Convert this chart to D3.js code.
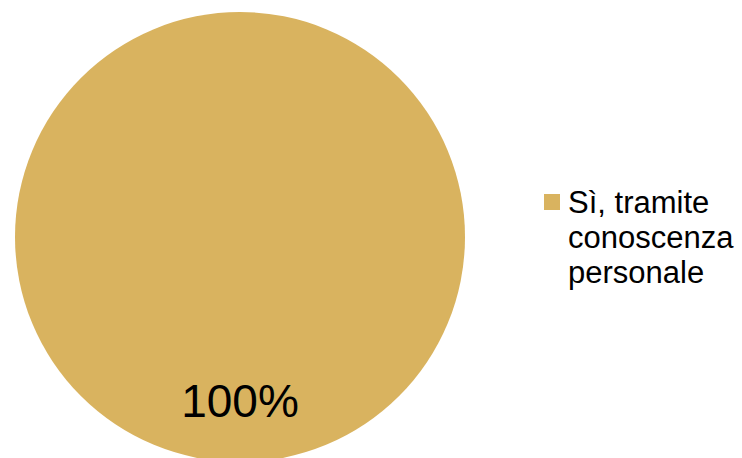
<!DOCTYPE html>
<html>
<head>
<meta charset="utf-8">
<script src="https://cdn.jsdelivr.net/npm/d3@7"></script>
<style>
  html, body { margin: 0; padding: 0; background: #fff; }
  svg { display: block; font-family: "Liberation Sans", Arial, sans-serif; }
</style>
</head>
<body>
<svg id="chart" width="742" height="458"></svg>
<script>
const categories = ["Sì, tramite conoscenza personale"];
const legendLines = ["Sì, tramite", "conoscenza", "personale"];
const values = [100];
const labels = ["100%"];
const colors = ["#D9B35F"];

const svg = d3.select("#chart");
const cx = 240, cy = 237, r = 225;

const pie = d3.pie().sort(null).value(d => d);
const arc = d3.arc().innerRadius(0).outerRadius(r);
const color = d3.scaleOrdinal().domain(categories).range(colors);

const g = svg.append("g").attr("transform", `translate(${cx},${cy})`);
const arcs = pie(values);
g.selectAll("path.slice").data(arcs).enter().append("path")
  .attr("class", "slice")
  .attr("d", arc)
  .attr("fill", (d, i) => color(categories[i]));

// percentage label near the bottom of the circle
g.selectAll("text.lbl").data(arcs).enter().append("text")
  .attr("class", "lbl")
  .attr("x", 0)
  .attr("y", 180)
  .attr("text-anchor", "middle")
  .attr("font-size", 46)
  .attr("fill", "#000")
  .text((d, i) => labels[i]);

// legend
const lg = svg.append("g").attr("transform", "translate(544,194)");
lg.append("rect").attr("x", 0).attr("y", 0).attr("width", 16).attr("height", 16)
  .attr("fill", color(categories[0]));
const t = lg.append("text").attr("x", 24).attr("y", 19).attr("font-size", 31).attr("fill", "#000");
legendLines.forEach((ln, i) => {
  t.append("tspan").attr("x", 24).attr("dy", i === 0 ? 0 : 35).text(ln);
});
</script>
</body>
</html>
